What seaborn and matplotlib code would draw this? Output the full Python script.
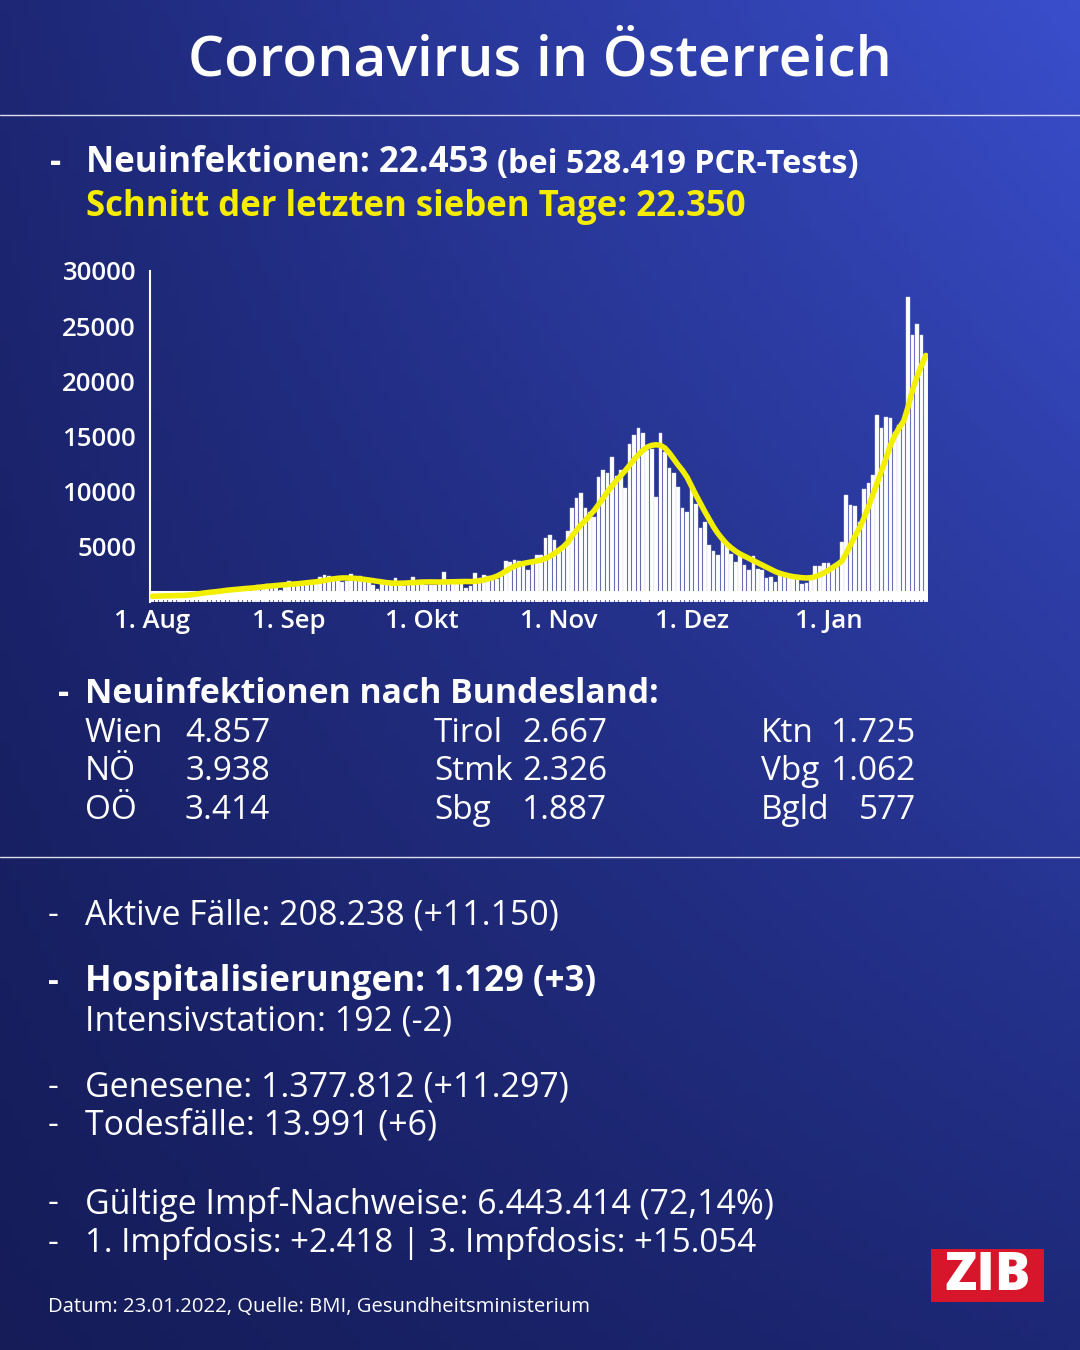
import numpy as np
import pandas as pd
import seaborn as sns
import matplotlib.pyplot as plt
from matplotlib.patches import Rectangle
from matplotlib.lines import Line2D
from matplotlib.colors import to_rgb

# daily new infections, 1 Aug 2021 .. 23 Jan 2022
daily = [300, 280, 420, 530, 560, 580, 560, 450, 400, 700,
         900, 920, 880, 850, 640, 560, 1000, 1150, 1200, 1200,
         1150, 900, 850, 1250, 1570, 1450, 1600, 1500, 1250, 1050,
         1350, 1880, 1700, 1750, 1520, 1500, 1600, 1700, 2270, 2420,
         2380, 2150, 2100, 1820, 1900, 2570, 2300, 2350, 2150, 1900,
         1520, 1210, 1700, 1750, 1800, 2180, 1800, 1420, 1650, 2270,
         1900, 1850, 1520, 1550, 1500, 1850, 2730, 1850, 1850, 1700,
         1700, 1300, 1420, 2670, 2180, 2450, 2400, 1970, 2100, 2570,
         3700, 3640, 3790, 3700, 3330, 2880, 3500, 4240, 4240, 5820,
         6060, 5640, 4540, 4850, 6450, 8560, 9400, 9920, 8560, 8200,
         7730, 11360, 11970, 11730, 13120, 11450, 11970, 10300, 14330, 15150,
         15760, 15300, 13790, 13900, 9500, 15300, 13640, 12180, 11670, 10450,
         8480, 8120, 10300, 8850, 6730, 7270, 5150, 4610, 4240, 5600,
         5090, 4390, 3640, 4300, 3390, 2880, 4180, 3030, 2880, 2180,
         2240, 1820, 2500, 2600, 2450, 2350, 2100, 1670, 1700, 2400,
         3240, 3240, 3540, 3540, 3150, 3200, 5450, 9700, 8790, 8730,
         7270, 10240, 10760, 11520, 16970, 15760, 16760, 16670, 15390, 16000,
         16500, 27640, 24240, 25240, 24180, 22453]

# seven day average (yellow line)
avg7 = [520, 530, 540, 550, 560, 575, 590, 600, 620, 660,
        720, 780, 830, 880, 920, 960, 1020, 1070, 1110, 1150,
        1190, 1220, 1250, 1280, 1330, 1380, 1420, 1460, 1500, 1530,
        1560, 1590, 1620, 1660, 1700, 1740, 1780, 1830, 1880, 1960,
        2040, 2100, 2150, 2180, 2180, 2160, 2140, 2100, 2050, 1990,
        1930, 1870, 1820, 1760, 1720, 1700, 1700, 1710, 1730, 1760,
        1790, 1810, 1820, 1820, 1810, 1810, 1820, 1830, 1850, 1860,
        1870, 1860, 1850, 1870, 1920, 2000, 2100, 2200, 2350, 2550,
        2800, 3050, 3250, 3400, 3500, 3580, 3650, 3720, 3800, 3950,
        4150, 4400, 4700, 5000, 5400, 6000, 6500, 7000, 7400, 7850,
        8300, 8850, 9400, 10000, 10500, 11000, 11450, 11900, 12400, 12900,
        13350, 13750, 14050, 14200, 14250, 14200, 13950, 13500, 12950, 12400,
        11900, 11300, 10500, 9700, 8950, 8200, 7500, 6800, 6200, 5700,
        5250, 4900, 4600, 4350, 4150, 3950, 3750, 3550, 3350, 3150,
        2950, 2750, 2600, 2480, 2380, 2300, 2250, 2200, 2180, 2200,
        2300, 2450, 2650, 2880, 3150, 3400, 3700, 4400, 5200, 6000,
        6700, 7600, 8600, 9700, 10800, 11900, 13000, 14200, 15100, 15800,
        16400, 17700, 19200, 20400, 21400, 22350]

days = list(range(len(daily)))
tick_days = [0, 31, 61, 92, 122, 153]
tick_labels = ['1. Aug', '1. Sep', '1. Okt', '1. Nov', '1. Dez', '1. Jan']
y_ticks = [5000, 10000, 15000, 20000, 25000, 30000]

states = ['Wien', 'NÖ', 'OÖ', 'Tirol', 'Stmk', 'Sbg', 'Ktn', 'Vbg', 'Bgld']
state_cases = ['4.857', '3.938', '3.414', '2.667', '2.326', '1.887', '1.725', '1.062', '577']

df = pd.DataFrame({'day': days, 'daily': daily, 'avg7': avg7})

sns.set_theme(style='white')
plt.rcParams['font.family'] = ['Open Sans', 'DejaVu Sans']

W, H = 1080, 1350
fig = plt.figure(figsize=(10.8, 13.5), dpi=100)

# background gradient
tl, tr = np.array(to_rgb('#1d2775')), np.array(to_rgb('#3a4ecc'))
bl, br = np.array(to_rgb('#151c58')), np.array(to_rgb('#1d2876'))
gx = np.linspace(0, 1, 108)[None, :, None]
gy = np.linspace(0, 1, 135)[:, None, None]
grad = (1 - gy) * ((1 - gx) * tl + gx * tr) + gy * ((1 - gx) * bl + gx * br)
bg = fig.add_axes([0, 0, 1, 1], zorder=-1)
bg.imshow(grad, aspect='auto', extent=[0, 1, 0, 1])
bg.axis('off')


def fx(x):
    return x / W


def fy(y):
    return 1 - y / H


def txt(x, y, s, size, weight='normal', color='white', ha='left'):
    return fig.text(fx(x), fy(y + 3), s, fontsize=size, fontweight=weight,
                    color=color, ha=ha, va='center')


# separator lines
for yy in [115, 857]:
    fig.add_artist(Line2D([0, 1], [fy(yy), fy(yy)], color='white', lw=1, alpha=0.85))

txt(540, 58, 'Coronavirus in Österreich', 41, 'semibold', ha='center')

txt(50, 160, '-', 25, 'bold')
t1 = txt(86, 160, 'Neuinfektionen: 22.453 ', 25, 'bold')
plt.annotate('(bei 528.419 PCR-Tests)', xy=(1, 0), xycoords=t1, fontsize=23.3,
             fontweight='bold', color='white', va='bottom', ha='left',
             annotation_clip=False)
txt(86, 204, 'Schnitt der letzten sieben Tage: 22.350', 25, 'bold', color='#f5ec00')

# chart
ax = fig.add_axes([fx(150), fy(602), fx(928) - fx(150), fy(271) - fy(602)])
ax.set_facecolor('none')
sns.barplot(data=df, x='day', y='daily', color='white', saturation=1, native_scale=True,
            width=0.82, linewidth=0.3, edgecolor='#d4d6f4', ax=ax)
ax.axhline(650, color='white', lw=6.5, zorder=1.5)
sns.lineplot(data=df, x='day', y='avg7', color='#f2ef00', linewidth=4, ax=ax, zorder=3)
ax.set_xlim(-0.5, len(days) - 0.5)
ax.set_ylim(0, 30000)
ax.set_yticks(y_ticks)
ax.set_yticklabels([str(v) for v in y_ticks])
ax.set_xticks(tick_days)
ax.set_xticklabels(tick_labels)
ax.set_xlabel('')
ax.set_ylabel('')
for s in ['top', 'right', 'bottom']:
    ax.spines[s].set_visible(False)
ax.spines['left'].set_color('white')
ax.spines['left'].set_linewidth(1.5)
ax.tick_params(axis='y', direction='in', length=14, width=1.3, colors='white',
               labelsize=18.5, pad=10)
ax.tick_params(axis='x', length=0, colors='white', labelsize=18.5, pad=5)
for lab in ax.get_xticklabels() + ax.get_yticklabels():
    lab.set_fontweight('semibold')

# Bundesland block
txt(58, 691, '-', 25, 'bold')
txt(85, 691, 'Neuinfektionen nach Bundesland:', 24.3, 'bold')
name_x = [85, 434, 761]
num_right = [270, 607, 916]
row_y = [730, 769, 808]
for i, (name, num) in enumerate(zip(states, state_cases)):
    col, row = divmod(i, 3)
    txt(name_x[col], row_y[row], name, 24)
    txt(num_right[col], row_y[row], num, 24, ha='right')

# lower block
lines = [
    (913, 'Aktive Fälle: 208.238 (+11.150)', 'normal', 24.4, True),
    (979, 'Hospitalisierungen: 1.129 (+3)', 'bold', 25.1, True),
    (1018, 'Intensivstation: 192 (-2)', 'normal', 24.4, False),
    (1084, 'Genesene: 1.377.812 (+11.297)', 'normal', 24.4, True),
    (1123, 'Todesfälle: 13.991 (+6)', 'normal', 24.4, True),
    (1201, 'Gültige Impf-Nachweise: 6.443.414 (72,14%)', 'normal', 24.4, True),
    (1240, '1. Impfdosis: +2.418 | 3. Impfdosis: +15.054', 'normal', 23.9, True),
]
for y, s, w, size, dash in lines:
    if dash:
        txt(48, y, '-', 24, w)
    txt(85, y, s, size, w)

txt(48, 1304, 'Datum: 23.01.2022, Quelle: BMI, Gesundheitsministerium', 14.6)

# ZIB logo
fig.add_artist(Rectangle((fx(931), fy(1302)), fx(1044) - fx(931), fy(1249) - fy(1302),
                         transform=fig.transFigure, facecolor='#d8162b', edgecolor='none'))
txt(988, 1273, 'ZIB', 38, 'heavy', ha='center')

fig.savefig('out.png', dpi=100)
